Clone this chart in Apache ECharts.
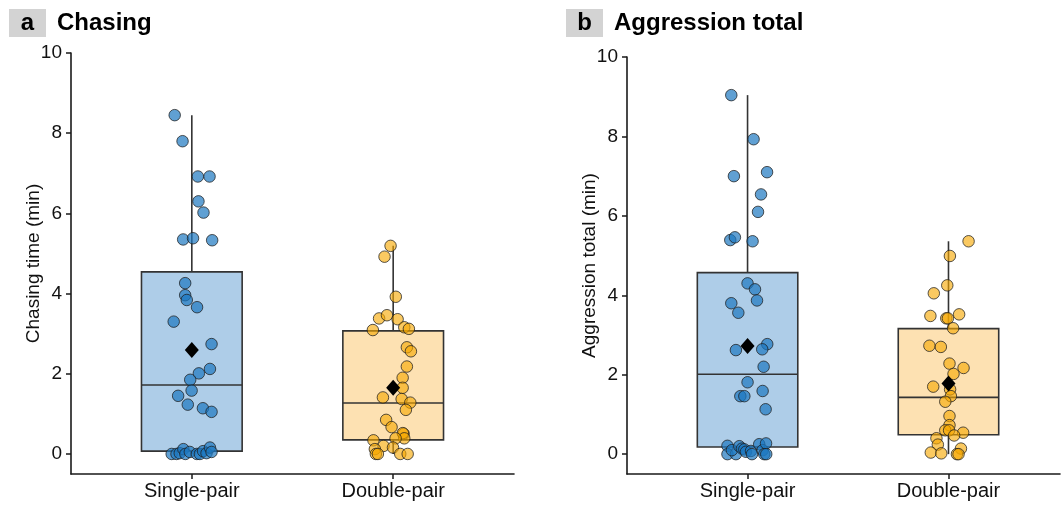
<!DOCTYPE html>
<html>
<head>
<meta charset="utf-8">
<script src="https://cdn.jsdelivr.net/npm/echarts@6/dist/echarts.min.js"></script>
<style>html,body{margin:0;padding:0;background:#fff}#c{width:1061px;height:505px}</style>
</head>
<body>
<div id="c"></div>
<script>
// ---------- data ----------
const categories = ['Single-pair', 'Double-pair'];
const yTicks = [0, 2, 4, 6, 8, 10];
const panelLetters = ['a', 'b'];
const panelTitles = ['Chasing', 'Aggression total'];
const yNames = ['Chasing time (min)', 'Aggression total (min)'];

// Panel a: chasing time (min)
const chaseSingleY = [8.45, 7.80, 6.92, 6.92, 6.30, 6.02, 5.35, 5.38, 5.33, 4.26, 3.96, 3.84, 3.66, 3.30, 2.74, 2.12, 2.01, 1.85, 1.58, 1.45, 1.23, 1.14, 1.05,
  0, 0, 0.02, 0.12, 0, 0.05, 0, 0, 0.07, 0.02, 0.16, 0.05];
const chaseSingleJit = [-0.085, -0.046, 0.030, 0.088, 0.033, 0.058, -0.043, 0.006, 0.101, -0.033, -0.033, -0.025, 0.026, -0.090, 0.098, 0.090, 0.035, -0.008, -0.001, -0.068, -0.020, 0.055, 0.098,
  -0.100, -0.076, -0.060, -0.042, -0.032, -0.010, 0.025, 0.040, 0.056, 0.073, 0.090, 0.098];
const chaseDoubleY = [5.19, 4.92, 3.92, 3.38, 3.46, 3.36, 3.16, 3.12, 3.09, 2.66, 2.56, 2.18, 1.90, 1.65, 1.41, 1.37, 1.28, 1.10, 0.85, 0.67, 0.50, 0.52, 0.39, 0.39, 0.34, 0.20, 0.12, 0.16, 0, 0, 0, 0];
const chaseDoubleJit = [-0.013, -0.043, 0.013, -0.070, -0.031, 0.022, 0.055, 0.078, -0.101, 0.068, 0.088, 0.068, 0.047, 0.047, -0.051, 0.042, 0.085, 0.063, -0.035, -0.008, 0.052, 0.048, 0.055, 0.012, -0.098, -0.048, -0.091, -0.001, -0.086, -0.076, 0.035, 0.072];
const chaseBox = [[0, 0.07, 1.72, 4.54, 8.45], [0, 0.35, 1.27, 3.07, 5.19]]; // min, q1, median, q3, max
const chaseMean = [2.59, 1.65];

// Panel b: aggression total (min)
const aggSingleY = [9.04, 7.93, 7.00, 7.10, 6.54, 6.10, 5.39, 5.46, 5.36, 4.30, 4.15, 3.80, 3.87, 3.56, 2.77, 2.64, 2.62, 2.20, 1.81, 1.46, 1.46, 1.59, 1.13,
  0.21, 0, 0, 0.10, 0.20, 0.14, 0.12, 0.06, 0.08, 0, 0.25, 0.10, 0.27, 0, 0];
const aggSingleJit = [-0.081, 0.030, -0.068, 0.097, 0.067, 0.052, -0.086, -0.063, 0.025, 0, 0.037, -0.081, 0.047, -0.046, 0.098, 0.073, -0.058, 0.080, 0, -0.036, -0.016, 0.075, 0.090,
  -0.100, -0.100, -0.058, -0.078, -0.041, -0.028, -0.016, -0.008, 0.017, 0.022, 0.058, 0.075, 0.092, 0.083, 0.093];
const aggDoubleY = [5.36, 4.99, 4.25, 4.05, 3.48, 3.42, 3.42, 3.52, 3.17, 2.73, 2.70, 2.28, 2.17, 2.02, 1.70, 1.63, 1.46, 1.32, 0.96, 0.73, 0.60, 0.60, 0.54, 0.47, 0.40, 0.24, 0.04, 0.02, 0.14, 0, 0];
const aggDoubleJit = [0.100, 0.007, -0.006, -0.073, -0.090, -0.011, -0.003, 0.053, 0.023, -0.095, -0.038, 0.005, 0.075, 0.025, -0.076, 0.008, 0.012, -0.016, 0.005, 0.005, -0.016, 0.003, 0.073, 0.028, -0.060, -0.053, -0.088, -0.036, 0.062, 0.042, 0.050];
const aggBox = [[0, 0.18, 2.01, 4.57, 9.04], [0, 0.49, 1.43, 3.16, 5.36]];
const aggMean = [2.72, 1.78];

// ---------- styles ----------
const boxFill = ['#aecde8', '#fde1b2'];
const pointFill = ['rgba(28,120,192,0.70)', 'rgba(247,168,0,0.62)'];
const pointBorder = 'rgba(30,30,30,0.75)';
const ink = '#1a1a1a';
const FONT = '"Liberation Sans", Arial, sans-serif';

function pts(ys, jit, catIdx) {
  return ys.map((v, i) => [catIdx + 1 + jit[i], v]);
}

function boxRender(params, api) {
  const x = api.value(0);
  const mn = api.value(1), q1 = api.value(2), md = api.value(3), q3 = api.value(4), mx = api.value(5);
  const hw = 0.25;
  const tl = api.coord([x - hw, q3]);
  const br = api.coord([x + hw, q1]);
  const cTop = api.coord([x, mx]);
  const cQ3 = api.coord([x, q3]);
  const cQ1 = api.coord([x, q1]);
  const cBot = api.coord([x, mn]);
  const mL = api.coord([x - hw, md]);
  const mR = api.coord([x + hw, md]);
  const lineStyle = { stroke: '#333', lineWidth: 1.6, fill: null };
  return {
    type: 'group',
    children: [
      { type: 'line', shape: { x1: cTop[0], y1: cTop[1], x2: cQ3[0], y2: cQ3[1] }, style: lineStyle },
      { type: 'line', shape: { x1: cQ1[0], y1: cQ1[1], x2: cBot[0], y2: cBot[1] }, style: lineStyle },
      { type: 'rect', shape: { x: tl[0], y: tl[1], width: br[0] - tl[0], height: br[1] - tl[1] },
        style: { fill: boxFill[params.dataIndex], stroke: '#333', lineWidth: 1.6 } },
      { type: 'line', shape: { x1: mL[0], y1: mL[1], x2: mR[0], y2: mR[1] }, style: lineStyle }
    ]
  };
}

const grids = [
  { left: 71, top: 53, width: 443, height: 421 },
  { left: 627, top: 57, width: 433, height: 417 }
];
const xMax = [2.6, 2.555];

const xAxes = grids.map((g, i) => ({
  type: 'value', gridIndex: i, min: 0.4, max: xMax[i],
  axisLine: { show: true, onZero: false, lineStyle: { color: ink, width: 1.6 } },
  axisTick: { show: true, length: 5, customValues: [1, 2], lineStyle: { color: ink, width: 1.5 } },
  axisLabel: { customValues: [1, 2], formatter: v => categories[Math.round(v) - 1] || '', fontSize: 20, color: '#111', fontFamily: FONT, margin: 7 },
  splitLine: { show: false }
}));
const yAxes = grids.map((g, i) => ({
  type: 'value', gridIndex: i, min: -0.5, max: 10,
  name: yNames[i], nameLocation: 'middle', nameGap: 28, nameMoveOverlap: false,
  nameTextStyle: { fontSize: 19, color: '#111', fontFamily: FONT },
  axisLine: { show: true, onZero: false, lineStyle: { color: ink, width: 1.6 } },
  axisTick: { show: true, length: 5, customValues: yTicks, lineStyle: { color: ink, width: 1.5 } },
  axisLabel: { customValues: yTicks, fontSize: 19, color: '#111', fontFamily: FONT, margin: 9 },
  splitLine: { show: false }
}));

const panels = [
  { single: [chaseSingleY, chaseSingleJit], double: [chaseDoubleY, chaseDoubleJit], box: chaseBox, mean: chaseMean },
  { single: [aggSingleY, aggSingleJit], double: [aggDoubleY, aggDoubleJit], box: aggBox, mean: aggMean }
];

const series = [];
panels.forEach((p, i) => {
  series.push({
    type: 'custom', xAxisIndex: i, yAxisIndex: i, z: 1,
    renderItem: boxRender,
    encode: { x: 0, y: [1, 2, 3, 4, 5] },
    data: p.box.map((b, k) => [k + 1].concat(b)),
    silent: true
  });
  [p.single, p.double].forEach((s, k) => {
    series.push({
      type: 'scatter', xAxisIndex: i, yAxisIndex: i, z: 3,
      symbol: 'circle', symbolSize: 11.5,
      itemStyle: { color: pointFill[k], borderColor: pointBorder, borderWidth: 1, opacity: 1 },
      data: pts(s[0], s[1], k),
      silent: true
    });
  });
  series.push({
    type: 'scatter', xAxisIndex: i, yAxisIndex: i, z: 5,
    symbol: 'diamond', symbolSize: [14, 16],
    itemStyle: { color: '#000', opacity: 1 },
    data: p.mean.map((m, k) => [k + 1, m]),
    silent: true
  });
});

const titleX = [9, 566];
const graphics = [];
panelLetters.forEach((L, i) => {
  graphics.push({ type: 'rect', left: titleX[i], top: 9, shape: { width: 37, height: 28 }, style: { fill: '#d3d3d3' }, silent: true });
  graphics.push({ type: 'text', x: titleX[i] + 18.5, y: 23, style: { text: L, font: 'bold 24px ' + FONT, fill: '#000', textAlign: 'center', textVerticalAlign: 'middle' }, silent: true });
  graphics.push({ type: 'text', x: titleX[i] + 48, y: 23, style: { text: panelTitles[i], font: 'bold 24px ' + FONT, fill: '#000', textAlign: 'left', textVerticalAlign: 'middle' }, silent: true });
});

const chart = echarts.init(document.getElementById('c'), null, { renderer: 'canvas' });
chart.setOption({
  animation: false,
  backgroundColor: '#fff',
  grid: grids,
  xAxis: xAxes,
  yAxis: yAxes,
  series: series,
  graphic: graphics
});
</script>
</body>
</html>
